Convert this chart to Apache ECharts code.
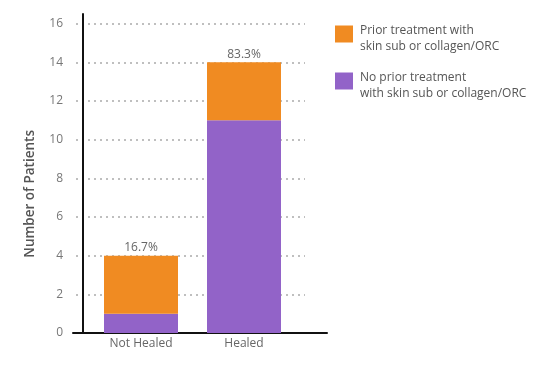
<!DOCTYPE html>
<html><head><meta charset="utf-8">
<script src="https://cdn.jsdelivr.net/npm/echarts@6/dist/echarts.min.js"></script>
<style>html,body{margin:0;padding:0;background:#fff}#c{width:542px;height:370px}</style>
</head><body><div id="c"></div>
<script>
const categories = ['Not Healed', 'Healed'];
const noPriorValues = [1, 11];
const priorValues = [3, 3];
const pctLabels = ['16.7%', '83.3%'];
const seriesNames = ['Prior treatment with\nskin sub or collagen/ORC', 'No prior treatment\nwith skin sub or collagen/ORC'];
const yAxisTitle = 'Number of Patients';

const FONT = '"Open Sans", sans-serif';
const chart = echarts.init(document.getElementById('c'), null, {renderer: 'canvas'});
chart.setOption({
  animation: false,
  backgroundColor: '#fff',
  textStyle: {fontFamily: FONT},
  grid: [
    {left: 76, right: 237, top: 23.7, bottom: 37},
    {left: 73, right: 215, top: 14, bottom: 37},
    {left: 89.5, right: 246.5, top: 23.7, bottom: 37}
  ],
  legend: {
    orient: 'vertical', left: 330, top: 12.5,
    itemWidth: 18, itemHeight: 17, itemGap: 12,
    icon: 'rect',
    data: [seriesNames[0], seriesNames[1]],
    formatter: name => '{s| }\n' + name.split('\n').map(l => '{t|' + l + '}').join('\n'),
    textStyle: {
      fontFamily: FONT, fontSize: 12, color: '#555',
      rich: {
        s: {fontSize: 1, lineHeight: 9},
        t: {fontFamily: FONT, fontSize: 12, lineHeight: 16, color: '#555', padding: [0, 0, 0, 2]}
      }
    }
  },
  xAxis: [
    {gridIndex: 0, type: 'value', show: false},
    {gridIndex: 1, type: 'value', min: 0, max: 1,
      axisLine: {show: true, onZero: false, lineStyle: {color: '#111', width: 2}},
      axisTick: {show: false}, axisLabel: {show: false}, splitLine: {show: false}},
    {gridIndex: 2, type: 'category', data: categories,
      axisLine: {show: false}, axisTick: {show: false},
      axisLabel: {margin: 5, color: '#666', fontSize: 12, fontFamily: FONT}}
  ],
  yAxis: [
    {gridIndex: 0, type: 'value', min: 0, max: 16, interval: 2,
      axisLine: {show: false}, axisTick: {show: false},
      axisLabel: {margin: 13, color: '#777', fontSize: 12, fontFamily: FONT},
      splitLine: {show: true, lineStyle: {type: [2, 4], color: '#aaa', width: 1.5}},
      name: yAxisTitle, nameLocation: 'middle', nameGap: 39,
      nameTextStyle: {fontFamily: FONT, fontSize: 13.5, fontWeight: 600, color: '#555', padding: [0, 31, 0, 0]}},
    {gridIndex: 1, type: 'value', min: 0, max: 1, offset: -10,
      axisLine: {show: true, onZero: false, lineStyle: {color: '#111', width: 2}},
      axisTick: {show: false}, axisLabel: {show: false}, splitLine: {show: false}},
    {gridIndex: 2, type: 'value', min: 0, max: 16, show: false}
  ],
  series: [
    {name: seriesNames[1], type: 'bar', stack: 'total', xAxisIndex: 2, yAxisIndex: 2,
      barWidth: 74, itemStyle: {color: '#9263C8'}, data: noPriorValues},
    {name: seriesNames[0], type: 'bar', stack: 'total', xAxisIndex: 2, yAxisIndex: 2,
      barWidth: 74, itemStyle: {color: '#F08B22'}, data: priorValues,
      label: {show: true, position: 'top', distance: 2, color: '#666', fontSize: 12, fontFamily: FONT,
        formatter: p => pctLabels[p.dataIndex]}}
  ]
});
</script></body></html>
